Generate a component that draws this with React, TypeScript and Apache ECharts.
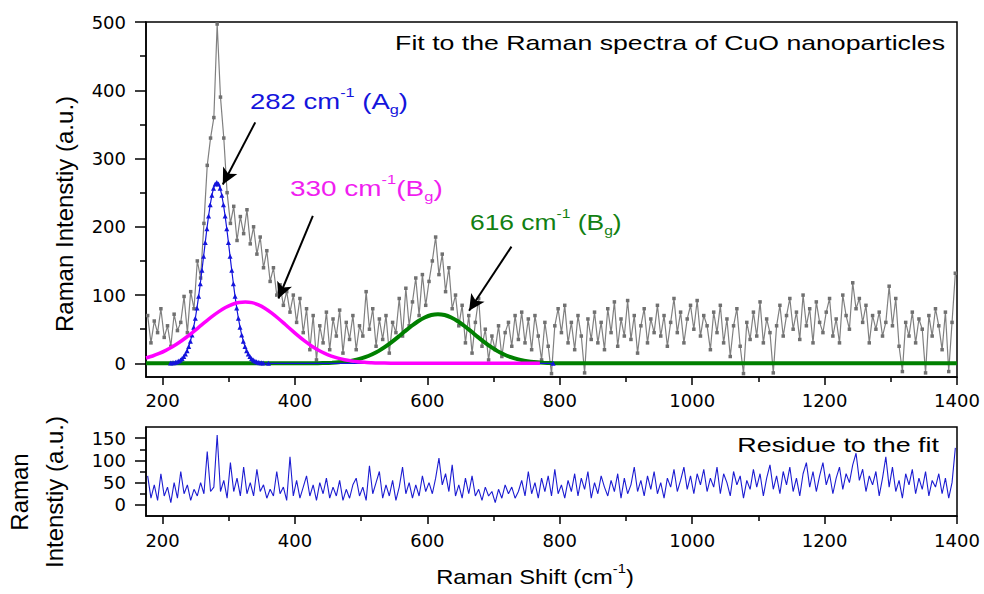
import React, { useEffect, useRef } from "react";
import * as echarts from "echarts";

// Raman shift sampling grid of the measured spectrum (cm^-1)
const SHIFT_START = 177.5;
const SHIFT_STEP = 5;

// Measured Raman intensity (a.u.), one value per grid step
const spectrum: number[] = [
  70, 30, 62, 45, 80, 38, 55, 25, 72, 48,
  60, 98, 45, 105, 80, 150, 125, 205, 290, 330,
  360, 497, 390, 330, 250, 205, 230, 180, 215, 190,
  225, 175, 200, 160, 185, 140, 165, 120, 140, 100,
  115, 85, 105, 75, 100,
  60, 95, 45, 80, 20, 70, 5, 55, 30, 75,
  20, 65, 40, 78, 15, 60, 35, 70, 20, 55,
  40, 105, 50, 80, 25, 65, 35, 70, 15, 60,
  45, 95, 40, 110, 55, 90, 125, 70, 130, 85,
  120, 150, 185, 130, 160, 105, 140, 80, 100, 55,
  85, 30, 70, 15, 60, 95, 25, 50, 5, 40,
  20, 55, 10, 45, 60, 25, 70, 35, 75, 30,
  65, 20, 70, 40, 5, 60, 25, -15, 55, 80,
  45, 85, 30, 60, 20, 70, 40, -14, 65, 35,
  75, 30, 60, 20, 80, 45, 90, 25, 65, 40,
  92, 35, 70, 15, 55, 80, 30, 65, 45, 85,
  40, 70, 25, 60, 95, 45, 75, 30, 65, 85,
  50, 92, 40, 70, 55, 20, 75, 45, 85, 30,
  65, 10, 55, 80, 25, -15, 60, 35, 75, 40,
  90, 30, 65, 45, -14, 55, 85, 40, 70, 95,
  50, 75, 35, 100, 55, 80, 30, 90, 60, 45,
  75, 95, 40, 65, 30, 100, 70, 50, 118, 80,
  95, 60, 85, 30, 70, 50, 75, 40, 60, 113,
  55, 95, 25, -12, 60, 40, 75, 30, 65, 50,
  -14, 70, 40, 80, 55, 20, 75, -12, 60, 132,
];

// Residue to the fit (a.u.), same grid
const residue: number[] = [
  65, 15, 45, 10, 70, 20, 40, 5, 50, 15,
  75, 25, 45, 10, 35, 20, 50, 25, 120, 30,
  40, 157, 30, 55, 15, 95, 30, 60, 20, 85,
  25, 50, 20, 80, 30, 45, 15, 35, 20, 75,
  25, 40, 10, 108, 20, 55, 15, 40, 65, 20,
  45, 10, 50, 25, 60, 15, 40, 20, 55, 10,
  35, 15, 45, 60, 20, 40, 10, 88, 25, 50,
  75, 15, 45, 20, 55, 10, 40, 85, 25, 50,
  15, 45, 20, 65, 30, 50, 25, 60, 105, 45,
  70, 30, 90, 20, 45, 15, 60, 25, 65, 20,
  35, 10, 40, 20, 30, 5, 35, 15, 45, 25,
  40, 15, 30, 55, 20, 75, 25, 50, 15, 60,
  30, 65, 20, 80, 25, 45, 15, 55, 30, 70,
  20, 60, 35, 75, 15, 50, 25, 65, 40, 20,
  55, 30, 70, 15, 60, 25, 45, 85, 30, 55,
  20, 65, 35, 75, 25, 50, 15, 60, 40, 80,
  30, 55, 85, 35, 65, 25, 70, 45, 80, 30,
  60, 40, 85, 25, 70, 50, 20, 75, 45, 65,
  15, 55, 35, 80, 40, 70, 20, 60, 90, 35,
  65, 25, 75, 45, 85, 30, 60, 20, 70, 95,
  40, 75, 30, 65, 95, 45, 70, 25, 60, 85,
  35, 70, 50, 90, 116, 55, 80, 30, 65, 45,
  75, 20, 60, 108, 40, 85, 30, 55, 15, 70,
  45, 80, 25, 60, 35, 75, 20, 55, 40, 70,
  25, 60, 15, 50, 128,
];

// Fitted band at 282 cm^-1 (Ag): sampling grid and values
const AG_START = 212;
const AG_STEP = 2.5;
const fitAg: number[] = [
  0.4, 0.7, 1.0, 1.6, 2.3, 3.4, 4.9, 7.1, 9.9, 13.6, 18.5, 24.6, 32.3, 41.7,
  53.0, 66.1, 81.2, 98.1, 116.6, 136.3, 156.7, 177.1, 197.2, 215.8, 232.3,
  246.1, 256.4, 262.8, 265, 262.8, 256.4, 246.1, 232.3, 215.8, 197.2, 177.1,
  156.7, 136.3, 116.6, 98.1, 81.2, 66.1, 53.0, 41.7, 32.3, 24.6, 18.5, 13.6,
  9.9, 7.1, 4.9, 3.4, 2.3, 1.6, 1.0, 0.7, 0.4,
];
const agTailX: number[] = [360, 790];
const agTailY: number[] = [0, 0];

// Fitted band at 330 cm^-1 (Bg)
const bg330X: number[] = [
  175, 185, 195, 205, 215, 225, 235, 245, 255, 265, 275, 285, 295, 305, 315,
  325, 335, 345, 355, 365, 375, 385, 395, 405, 415, 425, 435, 445, 455, 465,
  475, 485, 495, 505, 515, 525, 545, 575, 770,
];
const bg330Y: number[] = [
  7.9, 10.8, 14.5, 19.0, 24.3, 30.5, 37.5, 45.1, 53.0, 61.0, 68.7, 75.7, 81.7,
  86.2, 89.0, 90, 88.9, 85.6, 80.4, 73.6, 65.7, 57.2, 48.6, 40.2, 32.4, 25.5,
  19.6, 14.7, 10.7, 7.6, 5.3, 3.6, 2.3, 1.5, 1.0, 0.6, 0.2, 0, 0,
];

// Fitted band at 616 cm^-1 (Bg)
const bg616X: number[] = [
  175, 430, 446, 456, 466, 476, 486, 496, 506, 516, 526, 536, 546, 556, 566,
  576, 586, 596, 606, 616, 626, 636, 646, 656, 666, 676, 686, 696, 706, 716,
  726, 736, 746, 756, 766, 776, 786, 800, 1400,
];
const bg616Y: number[] = [
  0, 0, 0.5, 0.9, 1.5, 2.5, 4, 6.1, 9, 13, 17.9, 24, 31.1, 38.8, 46.9, 54.7,
  61.7, 67.2, 70.8, 72, 70.8, 67.2, 61.7, 54.7, 46.9, 38.8, 31.1, 24, 17.9, 13,
  9, 6.1, 4, 2.5, 1.5, 0.9, 0.5, 0, 0,
];

// Annotation arrows (data coordinates: tail -> head)
const arrowTail: number[][] = [[340, 353], [427, 216], [727, 171]];
const arrowHead: number[][] = [[291, 262], [375, 95], [663, 77]];

// Tick positions
const xMajorTicks = [200, 400, 600, 800, 1000, 1200, 1400];
const xMinorTicks = [300, 500, 700, 900, 1100, 1300];
const yTopMajor = [0, 100, 200, 300, 400, 500];
const yTopMinor = [50, 150, 250, 350, 450];
const yBotMajor = [0, 50, 100, 150];
const yBotMinor = [25, 75, 125];

const AXIS_FONT = "DejaVu Sans";
const TEXT_FONT = "Liberation Sans";

function richFor(color: string) {
  return {
    m: { fontSize: 22, fontFamily: TEXT_FONT, fill: color, lineHeight: 30 },
    sup: { fontSize: 13, fontFamily: TEXT_FONT, fill: color, lineHeight: 22, verticalAlign: "top" },
    sub: { fontSize: 13, fontFamily: TEXT_FONT, fill: color, lineHeight: 11, verticalAlign: "bottom" },
  };
}

const plainNumber = (v: number) => String(v);

function xAxisPair(gridIndex: number, margin: number) {
  const common = {
    type: "value",
    gridIndex,
    min: 175,
    max: 1400,
    position: "bottom",
    offset: 0,
    splitLine: { show: false },
  };
  return [
    {
      ...common,
      axisLine: { show: true, onZero: false, lineStyle: { color: "#000", width: 1.5 } },
      axisTick: { show: true, inside: false, length: 8, customValues: xMajorTicks, lineStyle: { color: "#000", width: 1.5 } },
      axisLabel: { show: true, customValues: xMajorTicks, formatter: plainNumber, margin, fontFamily: AXIS_FONT, fontSize: 18, color: "#000" },
    },
    {
      ...common,
      axisLine: { show: false, onZero: false },
      axisTick: { show: true, inside: false, length: 5, customValues: xMinorTicks, lineStyle: { color: "#000", width: 1.5 } },
      axisLabel: { show: false },
    },
  ];
}

function yAxisPair(gridIndex: number, min: number, max: number, major: number[], minor: number[]) {
  const common = {
    type: "value",
    gridIndex,
    min,
    max,
    position: "left",
    offset: 0,
    splitLine: { show: false },
  };
  return [
    {
      ...common,
      axisLine: { show: true, onZero: false, lineStyle: { color: "#000", width: 1.5 } },
      axisTick: { show: true, inside: false, length: 11, customValues: major, lineStyle: { color: "#000", width: 1.5 } },
      axisLabel: { show: true, customValues: major, formatter: plainNumber, margin: 20, fontFamily: AXIS_FONT, fontSize: 18, color: "#000" },
    },
    {
      ...common,
      axisLine: { show: false, onZero: false },
      axisTick: { show: true, inside: false, length: 6, customValues: minor, lineStyle: { color: "#000", width: 1.5 } },
      axisLabel: { show: false },
    },
  ];
}

export default function App() {
  const ref = useRef<HTMLDivElement>(null);

  useEffect(() => {
    if (!ref.current) return;
    const chart = echarts.init(ref.current, undefined, { renderer: "svg" });

    const spectrumData = spectrum.map((v, i) => [SHIFT_START + i * SHIFT_STEP, v]);
    const residueData = residue.map((v, i) => [SHIFT_START + i * SHIFT_STEP, v]);
    const agData = fitAg
      .map((v, i) => [AG_START + i * AG_STEP, v])
      .concat(agTailX.map((x, i) => [x, agTailY[i]]));
    const bg330Data = bg330X.map((x, i) => [x, bg330Y[i]]);
    const bg616Data = bg616X.map((x, i) => [x, bg616Y[i]]);

    const option: any = {
      animation: false,
      backgroundColor: "#ffffff",
      grid: [
        { left: 146, top: 22, width: 811, height: 355, show: true, borderColor: "#000", borderWidth: 1.5, backgroundColor: "transparent" },
        { left: 146, top: 427, width: 811, height: 89, show: true, borderColor: "#000", borderWidth: 1.5, backgroundColor: "transparent" },
      ],
      xAxis: [...xAxisPair(0, 14), ...xAxisPair(1, 15)],
      yAxis: [
        ...yAxisPair(0, -20, 500, yTopMajor, yTopMinor),
        ...yAxisPair(1, -25, 175, yBotMajor, yBotMinor),
      ],
      series: [
        {
          name: "Spectrum",
          type: "line",
          xAxisIndex: 0,
          yAxisIndex: 0,
          data: spectrumData,
          symbol: "rect",
          symbolSize: 3.5,
          showSymbol: true,
          itemStyle: { color: "#707070" },
          lineStyle: { color: "#808080", width: 1.2 },
          z: 2,
          silent: true,
          markLine: {
            silent: true,
            symbol: ["none", "arrow"],
            symbolSize: [12, 16],
            label: { show: false },
            lineStyle: { color: "#000", width: 2, type: "solid" },
            data: arrowTail.map((t, i) => [{ coord: t }, { coord: arrowHead[i] }]),
          },
        },
        {
          name: "616",
          type: "line",
          xAxisIndex: 0,
          yAxisIndex: 0,
          data: bg616Data,
          smooth: 0.3,
          symbol: "none",
          lineStyle: { color: "#008000", width: 4 },
          z: 3,
          silent: true,
        },
        {
          name: "282",
          type: "line",
          xAxisIndex: 0,
          yAxisIndex: 0,
          data: agData,
          symbol: "triangle",
          symbolSize: 5,
          showSymbol: true,
          itemStyle: { color: "#1414dc" },
          lineStyle: { color: "#1414dc", width: 1.2 },
          z: 4,
          silent: true,
        },
        {
          name: "330",
          type: "line",
          xAxisIndex: 0,
          yAxisIndex: 0,
          data: bg330Data,
          smooth: 0.3,
          symbol: "none",
          lineStyle: { color: "#ff00ff", width: 3.5 },
          z: 5,
          silent: true,
        },
        {
          name: "Residue",
          type: "line",
          xAxisIndex: 2,
          yAxisIndex: 2,
          data: residueData,
          symbol: "none",
          lineStyle: { color: "#1c1cd2", width: 1.1 },
          z: 3,
          silent: true,
        },
      ],
      graphic: [
        {
          type: "text",
          x: 945,
          y: 43,
          scaleX: 1.27,
          silent: true,
          style: { text: "Fit to the Raman spectra of CuO nanoparticles", fontFamily: TEXT_FONT, fontSize: 21, fill: "#000", align: "right", verticalAlign: "middle" },
        },
        {
          type: "text",
          x: 939,
          y: 445,
          scaleX: 1.28,
          silent: true,
          style: { text: "Residue to the fit", fontFamily: TEXT_FONT, fontSize: 21, fill: "#000", align: "right", verticalAlign: "middle" },
        },
        {
          type: "text",
          x: 250,
          y: 101,
          scaleX: 1.25,
          silent: true,
          style: { text: "{m|282 cm}{sup|-1}{m| (A}{sub|g}{m|)}", rich: richFor("#1414dc"), align: "left", verticalAlign: "middle" },
        },
        {
          type: "text",
          x: 290,
          y: 188,
          scaleX: 1.27,
          silent: true,
          style: { text: "{m|330 cm}{sup|-1}{m|(B}{sub|g}{m|)}", rich: richFor("#f01ef0"), align: "left", verticalAlign: "middle" },
        },
        {
          type: "text",
          x: 470,
          y: 222,
          scaleX: 1.2,
          silent: true,
          style: { text: "{m|616 cm}{sup|-1}{m| (B}{sub|g}{m|)}", rich: richFor("#128012"), align: "left", verticalAlign: "middle" },
        },
        {
          type: "text",
          x: 535,
          y: 577,
          scaleX: 1.13,
          silent: true,
          style: {
            text: "{m|Raman Shift (cm}{sup|-1}{m|)}",
            rich: {
              m: { fontSize: 21, fontFamily: TEXT_FONT, fill: "#000", lineHeight: 30 },
              sup: { fontSize: 13, fontFamily: TEXT_FONT, fill: "#000", lineHeight: 22, verticalAlign: "top" },
            },
            align: "center",
            verticalAlign: "middle",
          },
        },
        {
          type: "text",
          x: 64,
          y: 214,
          rotation: Math.PI / 2,
          silent: true,
          style: { text: "Raman Intenstiy (a.u.)", fontFamily: TEXT_FONT, fontSize: 24, fill: "#000", align: "center", verticalAlign: "middle" },
        },
        {
          type: "text",
          x: 37,
          y: 492,
          rotation: Math.PI / 2,
          silent: true,
          style: { text: "Raman\nIntenstiy (a.u.)", fontFamily: TEXT_FONT, fontSize: 24, lineHeight: 35, fill: "#000", align: "center", verticalAlign: "middle" },
        },
      ],
    };

    chart.setOption(option);
    return () => chart.dispose();
  }, []);

  return (
    <div
      ref={ref}
      style={{ position: "absolute", left: 0, top: 0, width: 984, height: 594, background: "#fff" }}
    />
  );
}
